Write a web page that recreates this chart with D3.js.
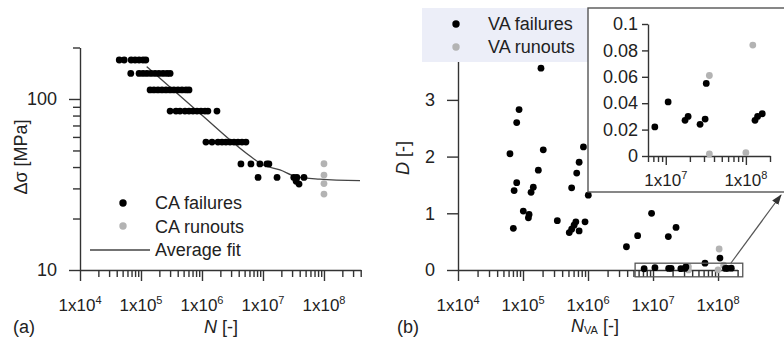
<!DOCTYPE html>
<html>
<head>
<meta charset="utf-8">
<script src="https://cdn.jsdelivr.net/npm/d3@7"></script>
<style>
  body { margin: 0; background: #fff; }
  svg { font-family: "Liberation Sans", Arial, sans-serif; }
</style>
</head>
<body>
<svg id="chart" width="784" height="338"></svg>
<script>

// ---- panel (a): constant amplitude tests, [N, stress range in MPa] ----
var caFailures = [
  [4.4e4,169],[5.3e4,169],[6.9e4,169],[8.0e4,169],[9.3e4,169],[1.08e5,169],[1.2e5,169],
  [6.8e4,141],[9.3e4,141],[1.08e5,141],[1.25e5,141],[1.46e5,141],[1.7e5,141],[1.97e5,141],[2.3e5,141],[2.67e5,141],[3.0e5,141],
  [1.41e5,113],[1.63e5,113],[1.9e5,113],[2.21e5,113],[2.57e5,113],[3.0e5,113],[3.47e5,113],[4.04e5,113],[4.7e5,113],[5.47e5,113],[6.13e5,113],
  [3.0e5,85],[3.75e5,85],[4.36e5,85],[5.26e5,85],[6.13e5,85],[7.12e5,85],[8.28e5,85],[9.63e5,85],[1.12e6,85],[1.25e6,85],[1.76e6,85],
  [1.16e6,56],[1.46e6,56],[1.83e6,56],[2.13e6,56],[2.47e6,56],[2.88e6,56],[3.35e6,56],[3.89e6,56],[4.53e6,56],[5.26e6,56],
  [4.35e6,41.7],[6.35e6,41.7],[8.9e6,41.7],[1.16e7,41.7],[1.25e7,41.7],
  [8.3e6,34.8],[1.7e7,34.8],[3.2e7,34.8],[3.6e7,34.8],[4.7e7,34.8],[3.5e7,33],[3.9e7,31.8]
];
var caRunouts = [[1e8,41.8],[1e8,35.9],[1e8,32.0],[1e8,27.8]];
var fitN = [1.24e5, 9.3e5, 5.4e6, 1.01e7, 1.9e7, 3.5e7, 8.5e7, 3.9e8];
var fitS = [154.6, 82.2, 48, 41.1, 38.5, 35.2, 34.0, 33.3];

// ---- panel (b): variable amplitude tests, [N_VA, damage sum D] ----
var vaFailures = [
  [1.89e5,3.56],[8.7e4,2.83],[8.0e4,2.60],[6.3e4,2.05],[2.05e5,2.12],[1.72e5,1.76],
  [8.0e4,1.54],[7.3e4,1.40],[1.44e5,1.46],[1.33e5,1.37],[1.01e5,1.04],[1.24e5,0.98],
  [1.21e5,0.92],[7.1e4,0.735],[3.37e5,0.87],[5.15e5,0.66],[5.6e5,0.72],[6.1e5,0.79],
  [6.5e5,0.85],[7.3e5,0.69],[9.0e5,0.85],[5.6e5,1.45],[6.7e5,1.71],[7.3e5,1.90],
  [8.5e5,2.17],[1.01e6,1.32],[1.14e6,1.48],[1.48e6,1.89],
  [9.5e6,1.0],[2.26e7,0.75],[5.8e6,0.605],[1.72e7,0.59],[3.9e6,0.41],[6.3e7,0.12],[1.07e8,0.21],
  [7.3e6,0.022],[1.07e7,0.041],[1.74e7,0.027],[1.9e7,0.030],[2.68e7,0.024],[3.1e7,0.028],
  [3.2e7,0.055],[1.3e8,0.027],[1.4e8,0.030],[1.6e8,0.032]
];
var vaRunouts = [[3.5e7,0.061],[1.22e8,0.084],[3.5e7,0.0015],[1.0e8,0.0025],[1.04e8,0.37]];
var dTicks = [0, 1, 2, 3];
var insetDTicks = [0, 0.02, 0.04, 0.06, 0.08, 0.1];
var zoomBoxN = [5.3e6, 2.4e8];
var zoomBoxD = [-0.12, 0.12];

var legendA = ["CA failures", "CA runouts", "Average fit"];
var legendB = ["VA failures", "VA runouts"];

var ink = "#222", axisCol = "#333", grey = "#b3b3b3", r = 3.4;
var svg = d3.select("#chart");

// log axis along x: minor ticks short, decades longer and labelled 1x10^n
function logAxisX(scale, y, majorLen, minorLen, labelY) {
  var all = scale.ticks();
  var isMajor = v => Math.abs(Math.log10(v) - Math.round(Math.log10(v))) < 1e-9;
  var g = svg.append("g");
  g.append("g").attr("transform", "translate(0," + y + ")")
    .call(d3.axisBottom(scale).tickValues(all.filter(v => !isMajor(v))).tickSize(minorLen).tickSizeOuter(0).tickFormat(""));
  var gm = g.append("g").attr("transform", "translate(0," + y + ")")
    .call(d3.axisBottom(scale).tickValues(all.filter(isMajor)).tickSize(majorLen).tickSizeOuter(0).tickFormat(""));
  gm.select(".domain").remove();
  all.filter(isMajor).forEach(function(v) {
    var t = g.append("text").attr("x", scale(v)).attr("y", labelY)
      .attr("text-anchor", "middle").attr("font-size", 17).attr("fill", ink);
    t.append("tspan").text("1x10");
    t.append("tspan").attr("dy", -7).attr("font-size", 11).text(Math.round(Math.log10(v)));
  });
  styleAxis(g);
  return g;
}
function styleAxis(g) {
  g.selectAll("path, line").attr("stroke", axisCol).attr("stroke-width", 1.4);
}

// ================= panel (a) =================
var xa = d3.scaleLog().domain([1e4, 4e8]).range([80, 360.7]);
var ya = d3.scaleLog().domain([10, 200]).range([270, 47.5]);

var yaAll = ya.ticks();
var yaMajor = [10, 100];
var gya = svg.append("g").attr("transform", "translate(80,0)");
gya.append("g").call(d3.axisLeft(ya).tickValues(yaAll.filter(v => yaMajor.indexOf(v) < 0)).tickSize(7).tickSizeOuter(0).tickFormat(""));
var gyaM = gya.append("g").call(d3.axisLeft(ya).tickValues(yaMajor).tickSize(11).tickPadding(12).tickFormat(d3.format("d")));
gyaM.select(".domain").remove();
gyaM.selectAll("text").attr("font-size", 18).attr("fill", ink).attr("font-family", null);
styleAxis(gya);

logAxisX(xa, 270, 11, 7, 311);

svg.append("path")
  .datum(fitN.map((n, i) => [n, fitS[i]]))
  .attr("fill", "none").attr("stroke", "#444").attr("stroke-width", 1.3)
  .attr("d", d3.line().x(d => xa(d[0])).y(d => ya(d[1])).curve(d3.curveMonotoneX));

svg.append("g").selectAll("circle").data(caFailures).enter().append("circle")
  .attr("cx", d => xa(d[0])).attr("cy", d => ya(d[1])).attr("r", r).attr("fill", "#000");
svg.append("g").selectAll("circle").data(caRunouts).enter().append("circle")
  .attr("cx", d => xa(d[0])).attr("cy", d => ya(d[1])).attr("r", r).attr("fill", grey);

// legend (a)
var legA = svg.append("g").attr("font-size", 18).attr("fill", ink);
legA.append("circle").attr("cx", 123).attr("cy", 203).attr("r", r + 0.3).attr("fill", "#000");
legA.append("circle").attr("cx", 123).attr("cy", 226).attr("r", r + 0.3).attr("fill", grey);
legA.append("line").attr("x1", 90).attr("x2", 150).attr("y1", 250).attr("y2", 250)
  .attr("stroke", "#444").attr("stroke-width", 1.3);
legendA.forEach(function(s, i) {
  legA.append("text").attr("x", 155).attr("y", 209 + i * 23.5).text(s);
});

// axis titles (a)
svg.append("text").attr("transform", "translate(27,157) rotate(-90)")
  .attr("text-anchor", "middle").attr("font-size", 18).attr("fill", ink).text("Δσ [MPa]");
var ta = svg.append("text").attr("x", 221).attr("y", 333).attr("text-anchor", "middle")
  .attr("font-size", 18).attr("fill", ink);
ta.append("tspan").attr("font-style", "italic").text("N");
ta.append("tspan").text(" [-]");
svg.append("text").attr("x", 13).attr("y", 333).attr("font-size", 18).attr("fill", ink).text("(a)");

// ================= panel (b) =================
var xb = d3.scaleLog().domain([1e4, 2e8]).range([458, 737.6]);
var yb = d3.scaleLinear().domain([0, 3.7]).range([270, 60.2]);

var gyb = svg.append("g").attr("transform", "translate(458,0)")
  .call(d3.axisLeft(yb).tickValues(dTicks).tickSize(11).tickPadding(12).tickSizeOuter(0).tickFormat(d3.format("d")));
gyb.selectAll("text").attr("font-size", 18).attr("fill", ink).attr("font-family", null);
styleAxis(gyb);

logAxisX(xb, 270, 11, 7, 311);

svg.append("g").selectAll("circle").data(vaRunouts).enter().append("circle")
  .attr("cx", d => xb(d[0])).attr("cy", d => yb(d[1])).attr("r", r).attr("fill", grey);
svg.append("g").selectAll("circle").data(vaFailures).enter().append("circle")
  .attr("cx", d => xb(d[0])).attr("cy", d => yb(d[1])).attr("r", r).attr("fill", "#000");

// zoom box and arrow to inset
svg.append("rect")
  .attr("x", xb(zoomBoxN[0])).attr("y", yb(zoomBoxD[1]))
  .attr("width", xb(zoomBoxN[1]) - xb(zoomBoxN[0]))
  .attr("height", yb(zoomBoxD[0]) - yb(zoomBoxD[1]))
  .attr("fill", "none").attr("stroke", "#555").attr("stroke-width", 1.3);

svg.append("defs").append("marker")
  .attr("id", "arrow").attr("viewBox", "0 0 10 10").attr("refX", 9).attr("refY", 5)
  .attr("markerWidth", 9).attr("markerHeight", 9).attr("orient", "auto")
  .append("path").attr("d", "M0,1.5 L10,5 L0,8.5 Z").attr("fill", "#333");
svg.append("line").attr("x1", 731).attr("y1", 263).attr("x2", 781).attr("y2", 195)
  .attr("stroke", "#555").attr("stroke-width", 1.2).attr("marker-end", "url(#arrow)");

// legend (b)
var legB = svg.append("g").attr("font-size", 18).attr("fill", ink);
legB.append("rect").attr("x", 422).attr("y", 8).attr("width", 168).attr("height", 54).attr("fill", "#eceef8");
legB.append("circle").attr("cx", 456).attr("cy", 24).attr("r", r + 0.3).attr("fill", "#000");
legB.append("circle").attr("cx", 456).attr("cy", 47).attr("r", r + 0.3).attr("fill", grey);
legendB.forEach(function(s, i) {
  legB.append("text").attr("x", 488).attr("y", 30 + i * 23).text(s);
});

// axis titles (b)
var tyb = svg.append("text").attr("transform", "translate(409,158) rotate(-90)")
  .attr("text-anchor", "middle").attr("font-size", 18).attr("fill", ink);
tyb.append("tspan").attr("font-style", "italic").text("D");
tyb.append("tspan").text(" [-]");
var txb = svg.append("text").attr("x", 595).attr("y", 332).attr("text-anchor", "middle")
  .attr("font-size", 18).attr("fill", ink);
txb.append("tspan").attr("font-style", "italic").text("N");
txb.append("tspan").attr("font-size", 11).attr("dy", 2).text("VA");
txb.append("tspan").attr("dy", -2).text(" [-]");
svg.append("text").attr("x", 397).attr("y", 333).attr("font-size", 18).attr("fill", ink).text("(b)");

// ================= inset =================
svg.append("rect").attr("x", 588).attr("y", 8).attr("width", 220).attr("height", 184)
  .attr("fill", "#fff").attr("stroke", "#555").attr("stroke-width", 1.4);

var xi = d3.scaleLog().domain([6e6, 2e8]).range([648, 770]);
var yi = d3.scaleLinear().domain([0, 0.1]).range([156, 24]);

var gyi = svg.append("g").attr("transform", "translate(648,0)")
  .call(d3.axisLeft(yi).tickValues(insetDTicks).tickSize(6).tickPadding(4).tickSizeOuter(0)
    .tickFormat(d => String(+d.toFixed(2))));
gyi.selectAll("text").attr("font-size", 18).attr("fill", ink).attr("font-family", null);
styleAxis(gyi);

logAxisX(xi, 156, 9, 6, 186);

var inInset = d => d[0] >= 6e6 && d[0] <= 2e8 && d[1] <= 0.1;
svg.append("g").selectAll("circle").data(vaRunouts.filter(inInset)).enter().append("circle")
  .attr("cx", d => xi(d[0])).attr("cy", d => yi(d[1])).attr("r", r).attr("fill", grey);
svg.append("g").selectAll("circle").data(vaFailures.filter(inInset)).enter().append("circle")
  .attr("cx", d => xi(d[0])).attr("cy", d => yi(d[1])).attr("r", r).attr("fill", "#000");

</script>
</body>
</html>
